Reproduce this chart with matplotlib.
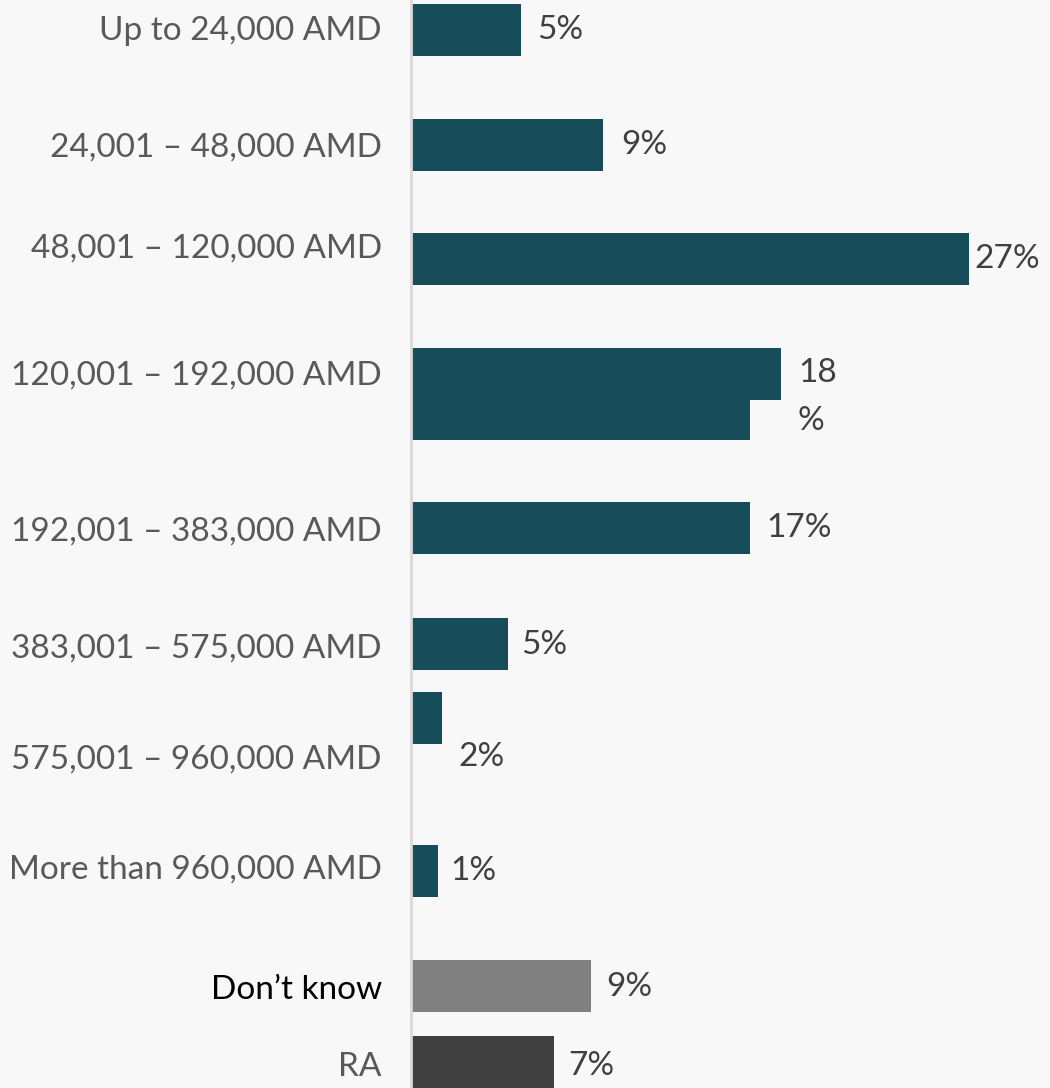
import matplotlib
matplotlib.use("Agg")
import matplotlib.pyplot as plt

# income groups (monthly household income)
categories = ["Up to 24,000 AMD", "24,001 – 48,000 AMD", "48,001 – 120,000 AMD",
              "120,001 – 192,000 AMD", "192,001 – 383,000 AMD", "383,001 – 575,000 AMD",
              "575,001 – 960,000 AMD", "More than 960,000 AMD", "Don’t know", "RA"]
values = [5.3, 9.3, 27.0, 17.9, 16.4, 4.7, 1.5, 1.3, 8.7, 6.9]
value_labels = ["5%", "9%", "27%", "18\n%", "17%", "5%", "2%", "1%", "9%", "7%"]

# layout of the original slide (pixel rows, it is not evenly spaced)
bar_y = [30, 144.5, 259, 374, 528, 643.5, 718, 871, 986, 1062]
label_y = [28, 145, 246, 373, 529, 646, 757, 867, 987, 1064]
value_y = [30, 145, 259, 397, 528, 645, 757, 871, 987, 1066]
value_pad = [17, 18, 5, 17, 16, 13, 16, 12, 15, 15]
ghost_y, ghost_h = 420, 40   # leftover piece under the 18% bar

teal = "#174d5a"
bar_colors = [teal] * 8 + ["#808080", "#404040"]
label_colors = ["#595959"] * 8 + ["#000000", "#595959"]
bg = "#f8f8f8"

plt.rcParams["font.family"] = ["Lato", "DejaVu Sans"]

fig = plt.figure(figsize=(10.5, 10.88), dpi=100, facecolor=bg)
px = 20.67  # pixels per percent
ax = fig.add_axes([411 / 1050, 0, 639 / 1050, 1])
ax.set_facecolor(bg)
ax.set_xlim(0, 639 / px)
ax.set_ylim(1088, 0)

ax.barh(bar_y, values, height=52, color=bar_colors, align="center")
ax.barh(ghost_y, values[4], height=ghost_h, color=teal, align="center")

for v, t, y, p in zip(values, value_labels, value_y, value_pad):
    ax.annotate(t, (v, y), xytext=(p * 0.72, 0), textcoords="offset points",
                ha="left", va="center", fontsize=24, color="#404040",
                linespacing=1.72)

ax.set_yticks(label_y)
ax.set_yticklabels(categories, fontsize=24)
for lab, c in zip(ax.get_yticklabels(), label_colors):
    lab.set_color(c)
ax.tick_params(axis="y", length=0, pad=21)
ax.set_xticks([])

for s in ["top", "right", "bottom"]:
    ax.spines[s].set_visible(False)
ax.spines["left"].set_color("#d9d9d9")
ax.spines["left"].set_linewidth(2)

fig.savefig("out.png", dpi=100, facecolor=bg)
